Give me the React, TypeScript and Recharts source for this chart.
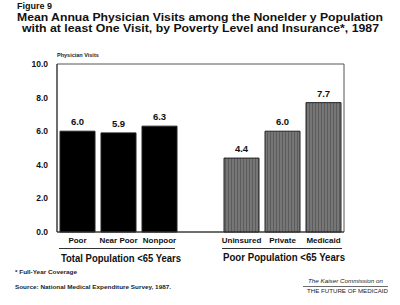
import { Bar, BarChart, Cell, LabelList, ReferenceArea, XAxis, YAxis } from 'recharts';

// Mean annual physician visits, 1987
const categories = ['Poor', 'Near Poor', 'Nonpoor', '', 'Uninsured', 'Private', 'Medicaid'];
const visits = [6.0, 5.9, 6.3, null, 4.4, 6.0, 7.7];
const groups = ['total', 'total', 'total', 'gap', 'poor', 'poor', 'poor'];
const yTicks = [0, 2, 4, 6, 8, 10];

const data = categories.map((name, i) => ({ name, visits: visits[i], group: groups[i] }));

const FONT = '"Liberation Sans", Arial, Helvetica, sans-serif';

const CategoryTick = ({ x, y, payload }: any) => (
  <text x={x} y={y} textAnchor="middle" dominantBaseline="hanging" fill="#111" fontSize={8} fontWeight={700} fontFamily={FONT}>
    {payload.value}
  </text>
);

export default function App() {
  return (
    <div style={{ position: 'absolute', left: 0, top: 0, width: 400, height: 305, background: '#fff', fontFamily: FONT }}>
      <BarChart
        width={400}
        height={305}
        data={data}
        margin={{ top: 64, right: 56, bottom: 43, left: 0 }}
        barCategoryGap={3}
      >
        <defs>
          <pattern id="grain" width="3" height="4" patternUnits="userSpaceOnUse">
            <rect width="3" height="4" fill="#767676" />
            <rect width="1" height="4" fill="#5c5c5c" />
          </pattern>
        </defs>
        {/* plot frame */}
        <ReferenceArea y1={0} y2={10} fill="none" stroke="#555" strokeWidth={1} ifOverflow="visible" />
        <XAxis
          dataKey="name"
          height={30}
          axisLine={{ stroke: '#333', strokeWidth: 1 }}
          tickLine={false}
          tickSize={0}
          interval={0}
          tickMargin={5}
          tick={<CategoryTick />}
        />
        <YAxis
          width={57}
          domain={[0, 10]}
          ticks={yTicks}
          tickFormatter={(v) => Number(v).toFixed(1)}
          axisLine={{ stroke: '#333', strokeWidth: 1 }}
          tickLine={false}
          tickMargin={3}
          tick={{ fill: '#111', fontSize: 8.5, fontWeight: 700, fontFamily: FONT }}
        />
        <Bar dataKey="visits" isAnimationActive={false} stroke="#222" strokeWidth={1}>
          {data.map((d, i) => (
            <Cell key={i} fill={d.group === 'total' ? '#000' : 'url(#grain)'} />
          ))}
          <LabelList
            dataKey="visits"
            position="top"
            offset={6}
            formatter={(v: any) => (v == null ? '' : Number(v).toFixed(1))}
            style={{ fill: '#111', fontSize: 9.5, fontWeight: 700, fontFamily: FONT }}
          />
        </Bar>
      </BarChart>
      <svg
        width={400}
        height={305}
        style={{ position: 'absolute', left: 0, top: 0, pointerEvents: 'none' }}
        fontFamily={FONT}
      >
        <text x={17} y={9} fontSize={9} fontWeight={700} fill="#111">Figure 9</text>
        <text x={17} y={20.5} fontSize={11.5} fontWeight={700} fill="#111" textLength={366} lengthAdjust="spacingAndGlyphs">
          Mean Annua  Physician Visits among the Nonelder y Population
        </text>
        <text x={22} y={31.5} fontSize={11.5} fontWeight={700} fill="#111" textLength={357} lengthAdjust="spacingAndGlyphs">
          with at least One Visit, by Poverty Level and Insurance*, 1987
        </text>
        <text x={57} y={57} fontSize={5.5} fontWeight={700} fill="#222">Physician Visits</text>

        <line x1={59} x2={175} y1={248.5} y2={248.5} stroke="#333" strokeWidth={1} />
        <line x1={222} x2={342} y1={248.5} y2={248.5} stroke="#333" strokeWidth={1} />
        <text x={61} y={262} fontSize={10.5} fontWeight={700} fill="#111" textLength={120} lengthAdjust="spacingAndGlyphs">
          Total Population &lt;65 Years
        </text>
        <text x={223} y={261} fontSize={10.5} fontWeight={700} fill="#111" textLength={122} lengthAdjust="spacingAndGlyphs">
          Poor Population &lt;65 Years
        </text>

        <text x={15} y={274} fontSize={5.5} fontWeight={700} fill="#222" textLength={62} lengthAdjust="spacingAndGlyphs">
          * Full-Year Coverage
        </text>
        <text x={15} y={289} fontSize={5.5} fontWeight={700} fill="#222" textLength={156} lengthAdjust="spacingAndGlyphs">
          Source:  National Medical Expenditure Survey, 1987.
        </text>
        <text x={308} y={283} fontSize={5.5} fontStyle="italic" fill="#222" textLength={75} lengthAdjust="spacingAndGlyphs">
          The Kaiser Commission on
        </text>
        <line x1={303} x2={388} y1={286.5} y2={286.5} stroke="#444" strokeWidth={0.8} />
        <text x={307} y={293} fontSize={5.5} fill="#222" textLength={81} lengthAdjust="spacingAndGlyphs">
          THE FUTURE OF MEDICAID
        </text>
      </svg>
    </div>
  );
}
